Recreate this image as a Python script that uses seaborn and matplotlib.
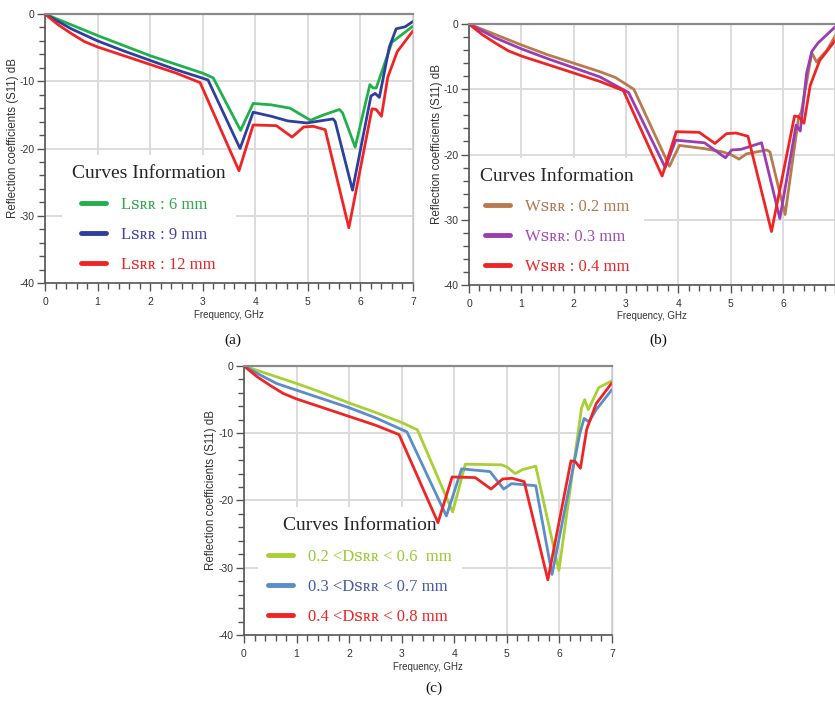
import numpy as np
import pandas as pd
import matplotlib
matplotlib.use("Agg")
import matplotlib.pyplot as plt
import seaborn as sns
from matplotlib.ticker import MultipleLocator

sns.set_theme(style="white")
plt.rcParams['axes.unicode_minus'] = False
plt.rcParams['font.family'] = ['Liberation Sans', 'DejaVu Sans']

SERIF = ['Liberation Serif', 'DejaVu Serif', 'DejaVu Sans']
SC = '\ua731\u0280\u0280'  # small-cap "SRR"

# ---------------- data (frequency GHz, S11 dB) ----------------
# shared reference curve (red)
f_red = [0, 0.25, 0.5, 0.75, 1.0, 1.5, 2.0, 2.5, 2.95, 3.69, 3.96, 4.4, 4.7, 4.92,
         5.1, 5.33, 5.78, 6.22, 6.3, 6.4, 6.52, 6.7, 7.0]
s_red = [0, -1.6, -2.9, -4.1, -4.9, -6.2, -7.5, -8.8, -10.2, -23.3, -16.5, -16.6, -18.3,
         -16.8, -16.7, -17.2, -31.8, -14.1, -14.2, -15.2, -9.4, -5.6, -2.5]

# panel (a): L_SRR
f_a6 = [0, 0.5, 1.0, 1.5, 2.0, 2.5, 3.0, 3.2, 3.72, 3.96, 4.3, 4.66, 5.05, 5.3, 5.6,
        5.66, 5.9, 6.18, 6.24, 6.3, 6.6, 6.8, 7.0]
s_a6 = [0, -1.6, -3.2, -4.7, -6.2, -7.5, -8.8, -9.5, -17.3, -13.3, -13.5, -14.0, -15.8,
        -15.0, -14.2, -14.7, -19.8, -10.5, -11.0, -11.0, -4.2, -3.0, -1.8]
f_a9 = [0, 0.5, 1.0, 1.5, 2.0, 2.5, 3.1, 3.71, 3.96, 4.3, 4.62, 4.98, 5.48, 5.52, 5.85,
        6.2, 6.28, 6.36, 6.55, 6.68, 6.85, 7.0]
s_a9 = [0, -2.2, -4.0, -5.5, -6.9, -8.3, -9.8, -20.0, -14.6, -15.2, -15.9, -16.2, -15.6,
        -16.0, -26.2, -12.2, -11.8, -12.4, -4.9, -2.2, -1.9, -1.1]
labels_a = ['L' + SC + ' : 6 mm', 'L' + SC + ' : 9 mm', 'L' + SC + ' : 12 mm']

# panel (b): W_SRR
f_b2 = [0, 0.5, 1.0, 1.5, 2.0, 2.5, 2.8, 3.15, 3.83, 4.02, 4.5, 4.85, 5.0, 5.16, 5.3,
        5.69, 5.75, 6.04, 6.3, 6.35, 6.55, 6.64, 6.84, 7.0]
s_b2 = [0, -1.6, -3.2, -4.7, -6.0, -7.3, -8.2, -10.0, -21.8, -18.6, -19.1, -19.6, -20.0,
        -20.7, -19.9, -19.3, -19.6, -29.2, -14.2, -13.5, -4.4, -5.8, -4.0, -1.8]
f_b3 = [0, 0.5, 1.0, 1.5, 2.0, 2.5, 3.05, 3.75, 3.95, 4.5, 4.9, 5.02, 5.2, 5.59, 5.94,
        6.25, 6.33, 6.45, 6.55, 6.67, 7.0]
s_b3 = [0, -2.1, -3.8, -5.3, -6.7, -8.1, -10.5, -22.0, -17.8, -18.2, -20.5, -19.3, -19.2,
        -18.2, -29.8, -15.5, -16.4, -7.6, -4.2, -2.9, -0.4]
labels_b = ['W' + SC + ' : 0.2 mm', 'W' + SC + ': 0.3 mm', 'W' + SC + ' : 0.4 mm']

# panel (c): D_SRR
f_c6 = [0, 0.5, 1.0, 1.5, 2.0, 2.5, 3.0, 3.3, 3.97, 4.21, 4.9, 5.0, 5.16, 5.3, 5.55,
        5.99, 6.42, 6.48, 6.55, 6.75, 7.0]
s_c6 = [0, -1.3, -2.6, -4.0, -5.5, -6.9, -8.4, -9.5, -21.7, -14.6, -14.7, -15.0, -16.0,
        -15.4, -14.9, -30.4, -6.3, -5.0, -6.5, -3.2, -2.2]
f_c7 = [0, 0.3, 0.62, 1.0, 1.5, 2.0, 2.5, 3.1, 3.85, 4.14, 4.68, 4.94, 5.09, 5.55, 5.86,
        6.39, 6.47, 6.56, 6.7, 7.0]
s_c7 = [0, -1.3, -2.6, -3.6, -4.9, -6.2, -7.7, -9.8, -22.3, -15.3, -15.7, -18.3, -17.5,
        -17.8, -31.0, -10.0, -7.8, -8.3, -6.5, -3.5]
labels_c = ['0.2 <D' + SC + ' < 0.6  mm', '0.3 <D' + SC + ' < 0.7 mm',
            '0.4 <D' + SC + ' < 0.8 mm']

x_ticks = [0, 1, 2, 3, 4, 5, 6, 7]
x_ticklabels = ['0', '1', '2', '3', '4', '5', '6', '7']
x_ticklabels_b = ['0', '1', '2', '3', '4', '5', '6', '']  # "7" falls off the page edge

RED = '#f02424'

fig = plt.figure(figsize=(8.35, 7.01), dpi=100)
fig.patch.set_facecolor('white')


def panel(rect, series, labels, line_colors, text_colors, leg_x, xticklabels):
    ax = fig.add_axes(rect)
    frames = [pd.DataFrame({'f': f, 's11': s, 'curve': lab})
              for (f, s), lab in zip(series, labels)]
    df = pd.concat(frames, ignore_index=True)
    sns.lineplot(data=df, x='f', y='s11', hue='curve', hue_order=labels,
                 palette=dict(zip(labels, line_colors)), sort=False, estimator=None,
                 lw=2.0, legend=False, ax=ax)
    ax.set_xlim(0, 7)
    ax.set_ylim(-40, 0)
    ax.set_xticks(x_ticks)
    ax.set_xticklabels(xticklabels)
    ax.xaxis.set_minor_locator(MultipleLocator(0.2))
    ax.yaxis.set_major_locator(MultipleLocator(10))
    ax.yaxis.set_minor_locator(MultipleLocator(2))
    ax.grid(True, which='major', color='#dcdcdc', lw=1.4)
    ax.set_axisbelow(True)
    ax.tick_params(which='both', bottom=True, left=True, top=False, right=False,
                   direction='out', color='#555555', width=1.0)
    ax.tick_params(which='major', length=6, labelsize=7.5, labelcolor='#333333')
    ax.tick_params(axis='x', which='major', pad=4)
    ax.tick_params(axis='y', which='major', pad=1.5)
    ax.tick_params(which='minor', length=4)
    for side, c, w in [('top', '#8a8a8a', 1.6), ('left', '#555555', 1.2),
                       ('bottom', '#555555', 1.2), ('right', '#c8c8c8', 1.0)]:
        ax.spines[side].set_color(c)
        ax.spines[side].set_linewidth(w)
        ax.spines[side].set_visible(True)
    ax.set_xlabel('Frequency, GHz', fontsize=7, color='#333333')
    ax.set_ylabel('Reflection coefficients (S11) dB', fontsize=8.3, color='#333333')
    ax.xaxis.set_label_coords(0.5, -0.1)
    ax.yaxis.set_label_coords(-26.5 / (rect[2] * 835), 0.54)
    handles = ax.get_lines()[:len(labels)]
    leg = ax.legend(handles, labels, title='Curves Information', loc='lower left',
                    bbox_to_anchor=(leg_x, 0.0), borderaxespad=0, frameon=True,
                    facecolor='white', edgecolor='none', framealpha=1, fancybox=False,
                    prop={'family': SERIF, 'size': 12},
                    title_fontproperties={'family': SERIF, 'size': 14},
                    handlelength=1.5, handletextpad=0.9, labelspacing=0.85,
                    borderpad=0.6)
    leg.set_zorder(1.5)  # above grid, below the curves
    for ln in leg.get_lines():
        ln.set_linewidth(3.5)
    for t, c in zip(leg.get_texts(), text_colors):
        t.set_color(c)
    return ax


panel([0.0539, 0.5963, 0.4407, 0.3837],
      [(f_a6, s_a6), (f_a9, s_a9), (f_red, s_red)], labels_a,
      ['#22b04b', '#2e3f9e', RED], ['#33a84a', '#4545a8', RED], 0.046, x_ticklabels)
panel([0.5617, 0.5934, 0.4387, 0.3723],
      [(f_b2, s_b2), (f_b3, s_b3), (f_red, s_red)], labels_b,
      ['#b77b4e', '#9a3db0', RED], ['#b07a50', '#a24fb3', RED], 0.004, x_ticklabels_b)
panel([0.2922, 0.0942, 0.4407, 0.3837],
      [(f_c6, s_c6), (f_c7, s_c7), (f_red, s_red)], labels_c,
      ['#a8cf35', '#5a8dc9', RED], ['#9cc932', '#4a5aa8', RED], 0.038, x_ticklabels)

for x, y, s in [(0.279, 0.515, '(a)'), (0.788, 0.514, '(b)'), (0.52, 0.0185, '(c)')]:
    fig.text(x, y, s, ha='center', va='center', family=SERIF, fontsize=11, color='#111111')

fig.savefig('out.png', dpi=100, facecolor='white')
